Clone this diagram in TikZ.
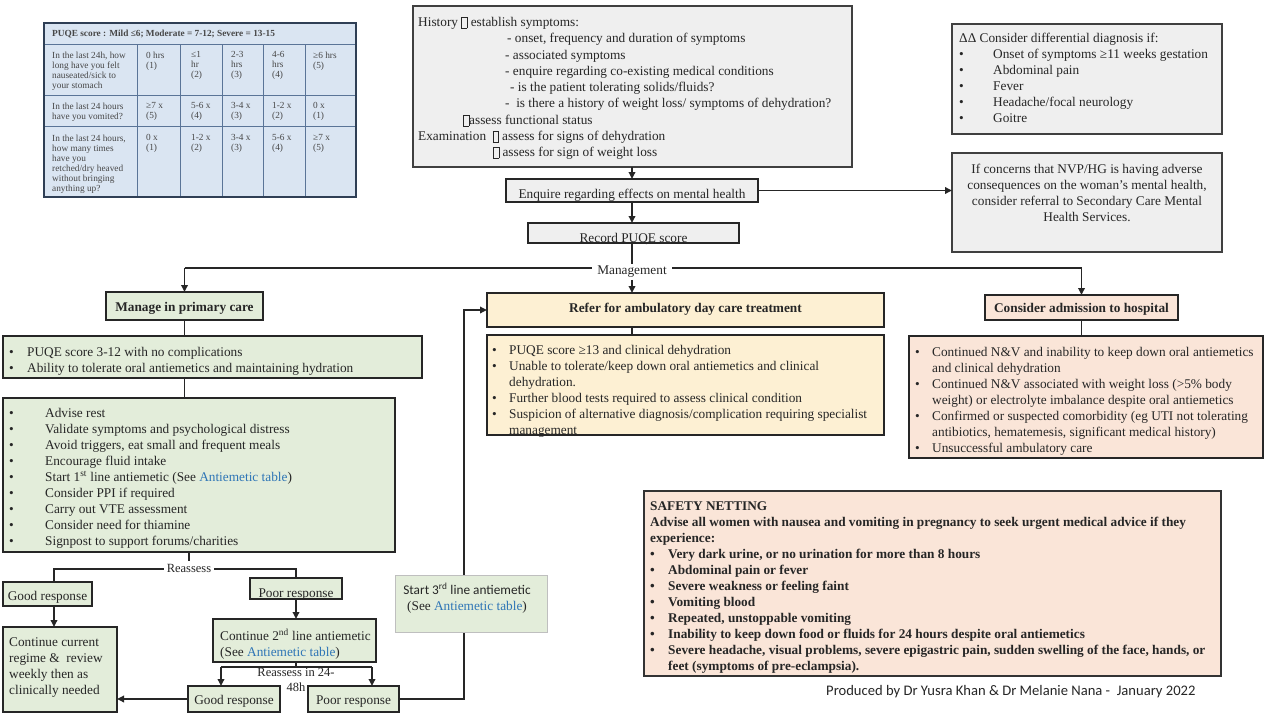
\documentclass[tikz,border=0pt]{standalone}
\usepackage{fontspec}
\setmainfont{Liberation Serif}
\newfontfamily\carl{Carlito}
\usetikzlibrary{arrows.meta}
\definecolor{grn}{HTML}{E3EDDA}
\definecolor{yel}{HTML}{FDF0D3}
\definecolor{pnk}{HTML}{FAE5D8}
\definecolor{gry}{HTML}{EFEFEF}
\definecolor{tbl}{HTML}{DAE5F2}
\definecolor{tline}{HTML}{5A7497}
\definecolor{touter}{HTML}{2F3F55}
\definecolor{lnk}{HTML}{2E75B6}
\definecolor{bord}{HTML}{262626}
\definecolor{txtc}{HTML}{262626}
\definecolor{lgb}{HTML}{BFBFBF}
\newcommand\tofu{\raisebox{-1.5pt}{\setlength\fboxsep{0pt}\setlength\fboxrule{0.5pt}\fbox{\rule{0pt}{10.5pt}\hspace{5pt}}}}
\newcommand\bul[1]{\makebox[#1][l]{\textbullet}}
\begin{document}
\begin{tikzpicture}[x=1pt,y=-1pt,
  box/.style={draw=bord, line width=1.6pt, inner sep=0pt, outer sep=0pt, anchor=north west},
  txt/.style={inner sep=0pt, anchor=north west, align=left, text=txtc,
    font=\fontsize{13.3}{16}\selectfont, execute at begin node=\strut},
  ctxt/.style={txt, anchor=north, align=center},
  btxt/.style={ctxt, font=\fontsize{13.3}{16}\selectfont\bfseries},
  tt/.style={inner sep=0pt, anchor=north west, align=left, text=txtc!85,
    font=\fontsize{9.3}{10}\selectfont, execute at begin node=\strut},
  ln/.style={draw=bord, line width=1.7pt},
  arr/.style={ln, -{Triangle[length=7pt,width=6.5pt]}}]
\useasboundingbox (0,0) rectangle (1280,720);

% ---------- PUQE table ----------
\fill[tbl] (44,23) rectangle (356,197);
\draw[tline, line width=0.9pt] (44,44) -- (356,44) (44,95) -- (356,95) (44,126) -- (356,126);
\draw[tline, line width=0.9pt] (137,44) -- (137,197) (180,44) -- (180,197) (222,44) -- (222,197)
  (263,44) -- (263,197) (305,44) -- (305,197);
\draw[touter, line width=1.3pt] (44,23) rectangle (356,197);
\node[tt, font=\fontsize{9.3}{10}\selectfont\bfseries] (th) at (52,29) {PUQE score : Mild ≤6; Moderate = 7-12; Severe = 13-15};
\node[tt] (t10) at (52,51.5) {In the last 24h, how\\long have you felt\\nauseated/sick to\\your stomach};
\node[tt] (t11) at (146,51.5) {0 hrs\\(1)};
\node[tt] (t12) at (191,51.5) {≤1\\hr\\(2)};
\node[tt] (t13) at (231,51.5) {2-3\\hrs\\(3)};
\node[tt] (t14) at (272,51.5) {4-6\\hrs\\(4)};
\node[tt] (t15) at (313,51.5) {≥6 hrs\\(5)};
\node[tt] (t20) at (52,102.5) {In the last 24 hours\\have you vomited?};
\node[tt] (t21) at (146,102.5) {≥7 x\\(5)};
\node[tt] (t22) at (191,102.5) {5-6 x\\(4)};
\node[tt] (t23) at (231,102.5) {3-4 x\\(3)};
\node[tt] (t24) at (272,102.5) {1-2 x\\(2)};
\node[tt] (t25) at (313,102.5) {0 x\\(1)};
\node[tt] (t30) at (52,134.5) {In the last 24 hours,\\how many times\\have you\\retched/dry heaved\\without bringing\\anything up?};
\node[tt] (t31) at (146,134.5) {0 x\\(1)};
\node[tt] (t32) at (191,134.5) {1-2 x\\(2)};
\node[tt] (t33) at (231,134.5) {3-4 x\\(3)};
\node[tt] (t34) at (272,134.5) {5-6 x\\(4)};
\node[tt] (t35) at (313,134.5) {≥7 x\\(5)};

% ---------- top boxes ----------
\node[box, fill=gry, draw=black!75, line width=1.9pt, minimum width=439pt, minimum height=161pt] (hist) at (413,6) {};
\node[txt, font=\fontsize{13.3}{16.25}\selectfont] (histT) at (418,17) {History \tofu{} establish symptoms:\\
\hspace*{89pt}- onset, frequency and duration of symptoms\\
\hspace*{87pt}- associated symptoms\\
\hspace*{87pt}- enquire regarding co-existing medical conditions\\
\hspace*{92pt}- is the patient tolerating solids/fluids?\\
\hspace*{87pt}-\ \ is there a history of weight loss/ symptoms of dehydration?\\
\hspace*{45pt}\tofu{}assess functional status\\
Examination\ \ \tofu{} assess for signs of dehydration\\
\hspace*{75pt}\tofu{} assess for sign of weight loss};

\node[box, fill=gry, draw=black!75, line width=1.9pt, minimum width=270pt, minimum height=110pt] (diff) at (952,24) {};
\node[txt] (diffT) at (959,33) {ΔΔ Consider differential diagnosis if:\\
\bul{34pt}Onset of symptoms ≥11 weeks gestation\\
\bul{34pt}Abdominal pain\\
\bul{34pt}Fever\\
\bul{34pt}Headache/focal neurology\\
\bul{34pt}Goitre};

\node[box, fill=gry, draw=black!75, line width=1.9pt, minimum width=270pt, minimum height=99pt] (mh) at (952,153) {};
\node[ctxt] (mhT) at (1087,164) {If concerns that NVP/HG is having adverse\\consequences on the woman’s mental health,\\consider referral to Secondary Care Mental\\Health Services.};

\node[box, fill=gry, minimum width=252pt, minimum height=23pt] (enq) at (506,179) {};
\node[ctxt] (enqT) at (632,187) {Enquire regarding effects on mental health};
\node[box, fill=gry, minimum width=211pt, minimum height=20pt] (rec) at (528,223) {};
\node[ctxt] (recT) at (633.5,231) {Record PUQE score};

\draw[arr] (hist.south -| enq.north) -- (enq.north);
\draw[arr] (enq.south) -- (enq.south |- rec.north);
\draw[arr] (enq.east) -- (enq.east -| mh.west);

% ---------- management split ----------
\coordinate (mL) at (184.5,268);
\coordinate (mR) at (1081.5,268);
\draw[ln] (mL) -- (mR);
\node[ctxt, fill=white, inner xsep=5pt] (mgmt) at (632,263.5) {Management};
\draw[ln] (rec.south -| mgmt.north) -- (mgmt.north);

\node[box, fill=grn, minimum width=157pt, minimum height=28pt] (prim) at (106,292) {};
\node[btxt] (primT) at (184.5,300.5) {Manage in primary care};
\node[box, fill=yel, minimum width=397pt, minimum height=34pt] (ref) at (487,293) {};
\node[btxt] (refT) at (685.5,301) {Refer for ambulatory day care treatment};
\node[box, fill=pnk, minimum width=193pt, minimum height=25pt] (adm) at (985,295) {};
\node[btxt] (admT) at (1081.5,301) {Consider admission to hospital};

\draw[arr] (mL) -- (mL |- prim.north);
\draw[arr] (mR) -- (mR |- adm.north);
\draw[arr] (mgmt.south) -- (mgmt.south |- ref.north);

% ---------- primary care column ----------
\node[box, fill=grn, minimum width=419pt, minimum height=42pt] (crit) at (3,336) {};
\node[txt] (critT) at (9,347) {\bul{18pt}PUQE score 3-12 with no complications\\
\bul{18pt}Ability to tolerate oral antiemetics and maintaining hydration};
\node[box, fill=grn, minimum width=392pt, minimum height=154pt] (adv) at (3,398) {};
\node[txt] (advT) at (9,408) {\bul{36pt}Advise rest\\
\bul{36pt}Validate symptoms and psychological distress\\
\bul{36pt}Avoid triggers, eat small and frequent meals\\
\bul{36pt}Encourage fluid intake\\
\bul{36pt}Start 1\textsuperscript{st} line antiemetic (See \textcolor{lnk}{Antiemetic table})\\
\bul{36pt}Consider PPI if required\\
\bul{36pt}Carry out VTE assessment\\
\bul{36pt}Consider need for thiamine\\
\bul{36pt}Signpost to support forums/charities};
\draw[ln] (prim.south) -- (prim.south |- crit.north);
\draw[ln] (crit.south -| prim.south) -- (adv.north -| prim.south);

\node[box, fill=grn, minimum width=89pt, minimum height=24pt] (good1) at (3,582) {};
\node[ctxt] (good1T) at (47.5,589) {Good response};
\node[box, fill=grn, minimum width=92pt, minimum height=21pt] (poor1) at (250,578) {};
\node[ctxt] (poor1T) at (296,586) {Poor response};
\node[box, fill=grn, minimum width=114pt, minimum height=85pt] (cont1) at (3,627) {};
\node[txt] (cont1T) at (9,637) {Continue current\\regime \&\ \ review\\weekly then as\\clinically needed};
\node[box, fill=grn, minimum width=163pt, minimum height=43pt] (cont2) at (213,619) {};
\node[txt] (cont2T) at (220,628.5) {Continue 2\textsuperscript{nd} line antiemetic\\(See \textcolor{lnk}{Antiemetic table})};

\node[ctxt, fill=white, inner xsep=3pt, font=\fontsize{12.5}{16}\selectfont] (reas) at (189,561) {Reassess};
\draw[ln] (adv.south -| reas.north) -- (reas.north);
\draw[ln] (reas.west) -| ([xshift=6.5pt]good1.north);
\draw[ln] (reas.east) -| (poor1.north);
\draw[arr] ([xshift=6.5pt]good1.south) -- ([xshift=6.5pt]good1.south |- cont1.north);
\draw[arr] (poor1.south) -- (poor1.south |- cont2.north);

\coordinate (r2L) at (221,667);
\coordinate (r2R) at (372,667);
\coordinate (r2M) at (296,667);
\draw[ln] (r2L) -- (r2R);
\draw[ln] (cont2.south -| r2M) -- (r2M);
\node[ctxt, fill=white, inner xsep=2pt, font=\fontsize{12.5}{15}\selectfont] (reas2) at (296,668.5) {Reassess in 24-\\48h};

\node[box, fill=grn, minimum width=92pt, minimum height=26pt] (good2) at (188,686) {};
\node[ctxt] (good2T) at (234,693) {Good response};
\node[box, fill=grn, minimum width=91pt, minimum height=26pt] (poor2) at (308,686) {};
\node[ctxt] (poor2T) at (353.5,693) {Poor response};
\draw[arr] (r2L) -- (r2L |- good2.north);
\draw[arr] (r2R) -- (r2R |- poor2.north);
\draw[arr] (good2.west) -- (good2.west -| cont1.east);

\coordinate (up1) at (464,699);
\coordinate (up2) at (464,310);
\draw[arr] (poor2.east) -- (up1) -- (up2) -- (up2 -| ref.west);

\node[box, fill=grn, draw=lgb, line width=1pt, minimum width=152pt, minimum height=57pt] (third) at (395,575) {};
\node[ctxt] (thirdT) at (467,583) {{\carl Start 3\textsuperscript{rd} line antiemetic}\\(See \textcolor{lnk}{Antiemetic table})};

% ---------- ambulatory & admission criteria ----------
\node[box, fill=yel, minimum width=397pt, minimum height=100pt] (refc) at (487,335) {};
\node[txt] (refcT) at (492,345) {\bul{17pt}PUQE score ≥13 and clinical dehydration\\
\bul{17pt}Unable to tolerate/keep down oral antiemetics and clinical\\
\hspace*{17pt}dehydration.\\
\bul{17pt}Further blood tests required to assess clinical condition\\
\bul{17pt}Suspicion of alternative diagnosis/complication requiring specialist\\
\hspace*{17pt}management};
\draw[ln] (mgmt.south |- ref.south) -- (mgmt.south |- refc.north);

\node[box, fill=pnk, minimum width=354pt, minimum height=122pt] (admc) at (909,336) {};
\node[txt] (admcT) at (915,347.5) {\bul{17pt}Continued N\&V and inability to keep down oral antiemetics\\
\hspace*{17pt}and clinical dehydration\\
\bul{17pt}Continued N\&V associated with weight loss (>5\% body\\
\hspace*{17pt}weight) or electrolyte imbalance despite oral antiemetics\\
\bul{17pt}Confirmed or suspected comorbidity (eg UTI not tolerating\\
\hspace*{17pt}antibiotics, hematemesis, significant medical history)\\
\bul{17pt}Unsuccessful ambulatory care};
\draw[ln] (adm.south) -- (adm.south |- admc.north);

% ---------- safety netting ----------
\node[box, fill=pnk, draw=black!80, line width=1.9pt, minimum width=577pt, minimum height=185pt] (safe) at (644,491) {};
\node[txt, font=\fontsize{13.3}{16}\selectfont\bfseries] (safeT) at (650,501) {SAFETY NETTING\\
Advise all women with nausea and vomiting in pregnancy to seek urgent medical advice if they\\
experience:\\
\bul{18pt}Very dark urine, or no urination for more than 8 hours\\
\bul{18pt}Abdominal pain or fever\\
\bul{18pt}Severe weakness or feeling faint\\
\bul{18pt}Vomiting blood\\
\bul{18pt}Repeated, unstoppable vomiting\\
\bul{18pt}Inability to keep down food or fluids for 24 hours despite oral antiemetics\\
\bul{18pt}Severe headache, visual problems, severe epigastric pain, sudden swelling of the face, hands, or\\
\hspace*{18pt}feet (symptoms of pre-eclampsia).};

\node[inner sep=0pt, anchor=west, text=txtc, font=\carl\fontsize{14.6}{17}\selectfont] (credit) at (826,692) {Produced by Dr Yusra Khan \& Dr Melanie Nana -\ \ January 2022};
\end{tikzpicture}
\end{document}
